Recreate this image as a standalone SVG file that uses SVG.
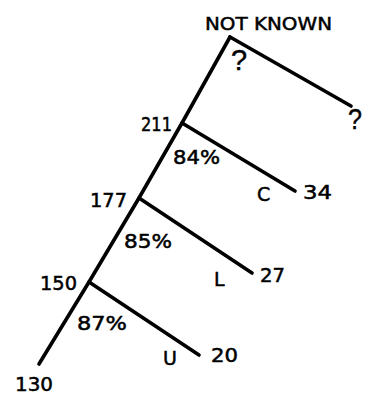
<svg xmlns="http://www.w3.org/2000/svg" width="365" height="394" viewBox="0 0 365 394">
<style>
.e{stroke:#000;stroke-width:3.6;stroke-linecap:round;fill:none}
text{font-family:"DejaVu Sans","Liberation Sans",sans-serif;font-size:19px;fill:#000;stroke:#000;stroke-width:0.5}
.q{font-family:"Liberation Sans",Arial,sans-serif;font-size:29px;stroke-width:0.4}
</style>
<rect width="365" height="394" fill="#fff"/>
<g id="connectors">
<polyline class="e" points="230,37 182,123 139,198 89,282 39,364"/>
<line class="e" x1="230" y1="37" x2="351" y2="106"/>
<line class="e" x1="182" y1="123" x2="295" y2="191"/>
<line class="e" x1="139" y1="198" x2="252" y2="273"/>
<line class="e" x1="89" y1="282" x2="199" y2="355"/>
</g>
<g id="root"><text x="205" y="30" textLength="127" lengthAdjust="spacingAndGlyphs" style="font-size:18.5px">NOT KNOWN</text><text class="q" x="231" y="70">?</text></g>
<g id="leaf-unknown"><text class="q" x="348" y="129" textLength="14" lengthAdjust="spacingAndGlyphs">?</text></g>
<g id="n211"><text x="141" y="131" textLength="31" lengthAdjust="spacingAndGlyphs">211</text><text x="173" y="164" textLength="47" lengthAdjust="spacingAndGlyphs">84%</text></g>
<g id="leaf-c"><text x="257" y="201">C</text><text x="303" y="199" textLength="29" lengthAdjust="spacingAndGlyphs">34</text></g>
<g id="n177"><text x="90" y="207" textLength="37" lengthAdjust="spacingAndGlyphs">177</text><text x="124" y="248" textLength="48" lengthAdjust="spacingAndGlyphs">85%</text></g>
<g id="leaf-l"><text x="214" y="286">L</text><text x="260" y="282" textLength="25" lengthAdjust="spacingAndGlyphs">27</text></g>
<g id="n150"><text x="40" y="290" textLength="37" lengthAdjust="spacingAndGlyphs">150</text><text x="77" y="330" textLength="50" lengthAdjust="spacingAndGlyphs">87%</text></g>
<g id="leaf-u"><text x="163" y="365">U</text><text x="211" y="362" textLength="27" lengthAdjust="spacingAndGlyphs">20</text></g>
<g id="n130"><text x="15" y="391" textLength="38" lengthAdjust="spacingAndGlyphs">130</text></g>
</svg>
